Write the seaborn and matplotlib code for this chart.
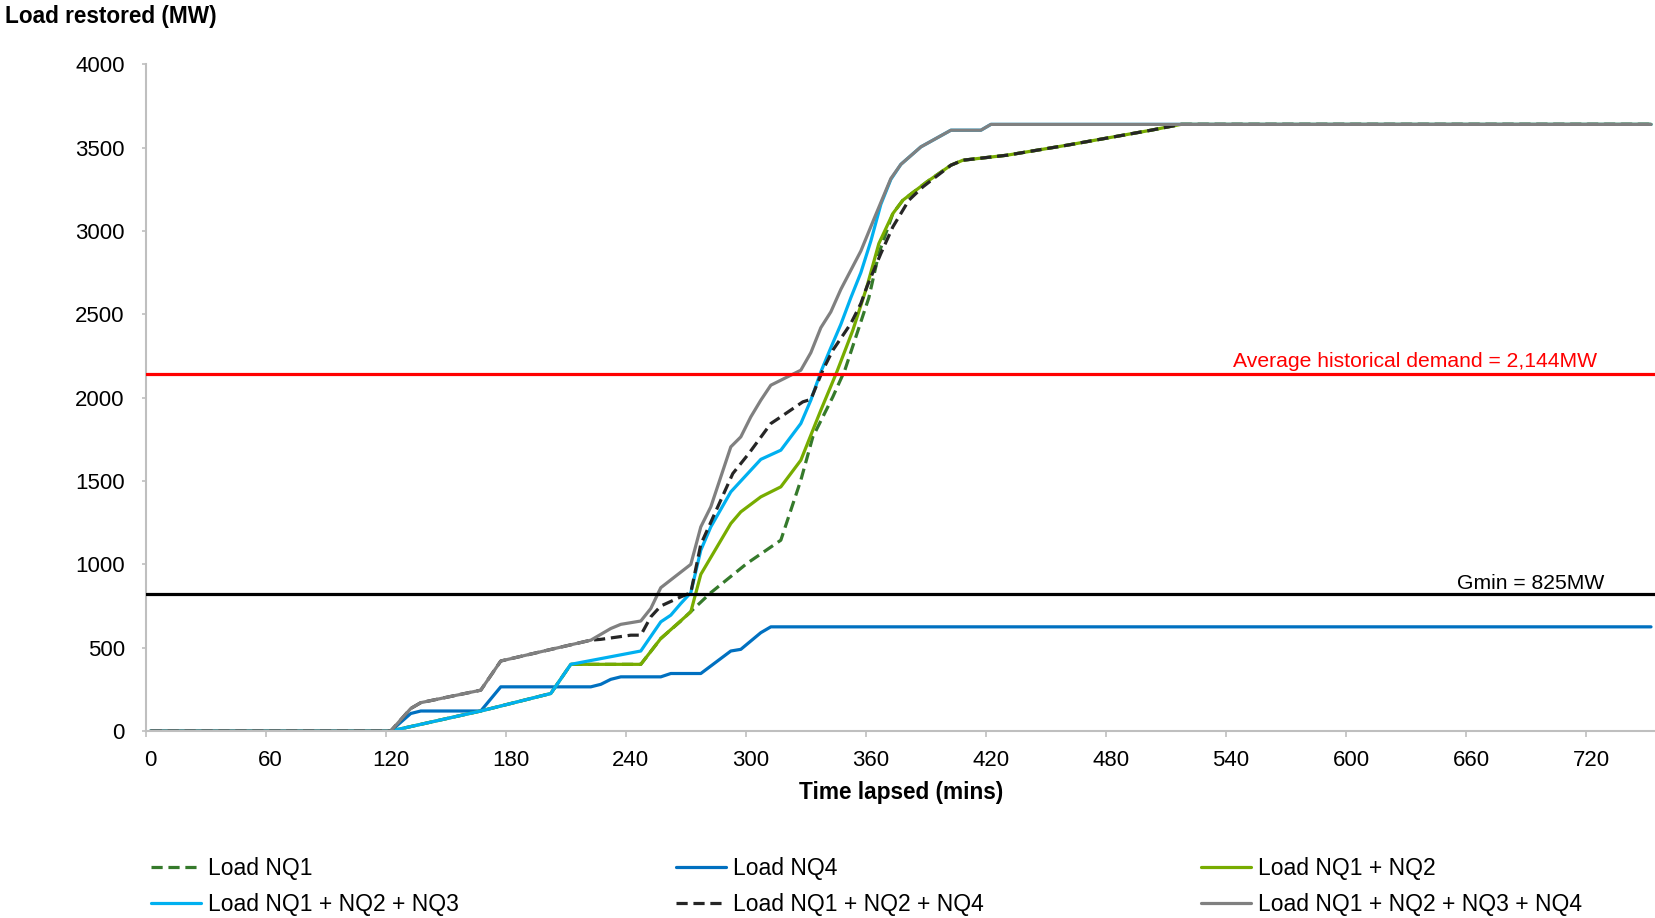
import pandas as pd
import matplotlib.pyplot as plt
import seaborn as sns

# data (minutes, MW)
t_nq1 = [0, 120, 165, 200, 210, 245, 255, 265, 280, 298, 315, 325, 331, 341, 347, 359, 364,
         371, 376, 388, 400, 406, 428, 458, 500, 515, 750]
v_nq1 = [0, 0, 120, 225, 400, 400, 555, 660, 830, 1005, 1145, 1505, 1765, 2005, 2165, 2600, 2866,
         3105, 3185, 3295, 3395, 3425, 3455, 3515, 3605, 3640, 3640]

t_nq4 = [0, 120, 130, 135, 165, 175, 220, 225, 230, 235, 255, 260, 275, 290, 295, 305, 310, 750]
v_nq4 = [0, 0, 105, 120, 120, 265, 265, 280, 310, 325, 325, 345, 345, 480, 490, 590, 625, 625]

t_nq12 = [0, 120, 165, 200, 210, 245, 255, 270, 275, 290, 295, 305, 315, 325, 335, 343, 351,
          358, 364, 371, 376, 388, 400, 406, 428, 458, 500, 515, 750]
v_nq12 = [0, 0, 120, 225, 400, 400, 555, 715, 940, 1245, 1315, 1405, 1465, 1625, 1925, 2155, 2405,
          2665, 2925, 3105, 3185, 3295, 3395, 3425, 3455, 3515, 3605, 3640, 3640]

t_nq123 = [0, 120, 165, 200, 210, 245, 255, 260, 265, 270, 275, 280, 290, 300, 305, 315, 325,
           330, 335, 340, 345, 350, 355, 360, 365, 370, 375, 385, 400, 415, 420, 750]
v_nq123 = [0, 0, 120, 225, 400, 480, 655, 695, 765, 830, 1085, 1225, 1435, 1565, 1630, 1685, 1845,
           1985, 2155, 2300, 2440, 2600, 2750, 2940, 3160, 3310, 3400, 3505, 3605, 3605, 3640, 3640]

t_nq124 = [0, 120, 130, 135, 165, 175, 220, 225, 240, 245, 250, 255, 265, 270, 275, 291, 299,
           310, 315, 326, 330, 336, 341, 350, 355, 358, 365, 371, 379, 386, 400, 406, 428, 458,
           500, 515, 750]
v_nq124 = [0, 0, 135, 170, 245, 420, 545, 550, 575, 575, 685, 750, 805, 830, 1120, 1545, 1665,
           1845, 1885, 1975, 1990, 2165, 2285, 2445, 2565, 2665, 2865, 3025, 3185, 3265, 3395, 3425,
           3455, 3515, 3605, 3640, 3640]

t_nq1234 = [0, 120, 130, 135, 165, 175, 220, 230, 235, 245, 250, 255, 270, 275, 280, 290, 295,
            300, 305, 310, 320, 325, 330, 335, 340, 345, 355, 362, 370, 375, 385, 400, 415, 420, 750]
v_nq1234 = [0, 0, 135, 170, 245, 420, 545, 615, 640, 660, 735, 860, 1000, 1225, 1345, 1705, 1765,
            1885, 1985, 2075, 2135, 2165, 2270, 2420, 2515, 2650, 2880, 3085, 3315, 3400, 3505, 3605,
            3605, 3640, 3640]

names = ['Load NQ1', 'Load NQ4', 'Load NQ1 + NQ2', 'Load NQ1 + NQ2 + NQ3',
         'Load NQ1 + NQ2 + NQ4', 'Load NQ1 + NQ2 + NQ3 + NQ4']
colors = ['#357A2B', '#0070C0', '#77AC00', '#00B0F0', '#262626', '#808080']
dashed = [True, False, False, False, True, False]

avg_demand = 2144
gmin = 825

frames = []
for name, t, v in zip(names, [t_nq1, t_nq4, t_nq12, t_nq123, t_nq124, t_nq1234],
                      [v_nq1, v_nq4, v_nq12, v_nq123, v_nq124, v_nq1234]):
    frames.append(pd.DataFrame({'t': t, 'mw': v, 'series': name}))
df = pd.concat(frames, ignore_index=True)

sns.set_theme(style='white')
plt.rcParams['font.family'] = ['Liberation Sans', 'DejaVu Sans']
plt.rcParams['text.color'] = 'black'
plt.rcParams['axes.labelcolor'] = 'black'
plt.rcParams['xtick.color'] = 'black'
plt.rcParams['ytick.color'] = 'black'

W, H = 1656, 918
fig = plt.figure(figsize=(W / 100, H / 100), dpi=100)
ax = fig.add_axes([145.7 / W, 187 / H, (W - 145.7) / W, 666.6 / H])

sns.lineplot(data=df, x='t', y='mw', hue='series', style='series',
             hue_order=names, style_order=names,
             palette=dict(zip(names, colors)),
             dashes={n: ((3.5, 1.8) if d else '') for n, d in zip(names, dashed)},
             estimator=None, sort=False, lw=2.3, ax=ax)

ax.axhline(avg_demand, color='#FF0000', lw=2.3, zorder=3)
ax.axhline(gmin, color='black', lw=2.3, zorder=3)
ax.text(723, 2217, 'Average historical demand = 2,144MW', color='#FF0000',
        ha='right', va='center', fontsize=15.2)
ax.text(726.6, 883, 'Gmin = 825MW', color='black', ha='right', va='center', fontsize=15.2)

ax.set_xlim(-2.5, 752.5)
ax.set_ylim(0, 4000)
ax.set_yticks(range(0, 4001, 500))
ax.set_xticks(range(0, 721, 60))
ax.set_xticks([x - 2.5 for x in range(0, 721, 60)], minor=True)
ax.tick_params(axis='x', which='major', length=0, pad=14, labelsize=16, labelcolor='black')
ax.tick_params(axis='x', which='minor', length=4.5, width=1.2, color='#BFBFBF', bottom=True)
ax.tick_params(axis='y', length=3, width=1.2, color='#BFBFBF', pad=12, labelsize=16,
               left=True, labelcolor='black')
for s in ['top', 'right']:
    ax.spines[s].set_visible(False)
for s in ['left', 'bottom']:
    ax.spines[s].set_color('#BFBFBF')
    ax.spines[s].set_linewidth(1.5)

ax.set_xlabel('Time lapsed (mins)', fontsize=16.3, fontweight='bold', labelpad=7)
ax.set_ylabel('')
fig.text(5 / W, 1 - 16 / H, 'Load restored (MW)', fontsize=16.3, fontweight='bold', va='center')

handles, labels = ax.get_legend_handles_labels()
ax.get_legend().remove()
lookup = dict(zip(labels, handles))
order = [names[0], names[3], names[1], names[4], names[2], names[5]]
fig.legend([lookup[n] for n in order], order, loc='upper left',
           bbox_to_anchor=(151 / W, 0.0, (1582 - 151) / W, 0.066), mode='expand',
           ncol=3, frameon=False, borderaxespad=0, borderpad=0, handlelength=2.2,
           handletextpad=0.3, labelspacing=0.55, fontsize=16.5)

fig.savefig('out.png', dpi=100)
